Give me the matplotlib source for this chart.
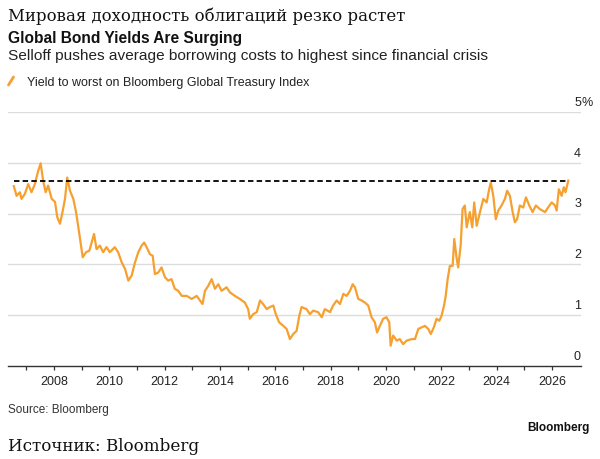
import matplotlib
matplotlib.use("Agg")
import matplotlib.pyplot as plt
from matplotlib.lines import Line2D

# ---- data (decimal year, yield %) ----
years = [
    2006.55, 2006.65, 2006.77, 2006.83, 2006.95, 2007.07, 2007.19, 2007.31, 2007.43, 2007.52,
    2007.61, 2007.70, 2007.79, 2007.92, 2008.04, 2008.12, 2008.22, 2008.31, 2008.40, 2008.48,
    2008.58, 2008.70, 2008.80, 2008.91, 2009.04, 2009.16, 2009.28, 2009.45, 2009.54, 2009.66,
    2009.78, 2009.90, 2010.02, 2010.20, 2010.32, 2010.45, 2010.57, 2010.69, 2010.81, 2010.93,
    2011.05, 2011.17, 2011.26, 2011.35, 2011.47, 2011.57, 2011.65, 2011.77, 2011.89, 2012.01,
    2012.13, 2012.25, 2012.37, 2012.49, 2012.62, 2012.80, 2012.98, 2013.16, 2013.28, 2013.37,
    2013.46, 2013.58, 2013.70, 2013.82, 2013.94, 2014.06, 2014.24, 2014.36, 2014.54, 2014.72,
    2014.90, 2015.02, 2015.08, 2015.20, 2015.33, 2015.45, 2015.56, 2015.69, 2015.81, 2015.93,
    2016.02, 2016.14, 2016.29, 2016.41, 2016.53, 2016.65, 2016.77, 2016.87, 2016.95, 2017.13,
    2017.25, 2017.37, 2017.55, 2017.68, 2017.79, 2017.98, 2018.09, 2018.22, 2018.34, 2018.46,
    2018.58, 2018.70, 2018.80, 2018.88, 2019.00, 2019.12, 2019.24, 2019.36, 2019.48, 2019.60,
    2019.68, 2019.78, 2019.90, 2020.02, 2020.12, 2020.17, 2020.26, 2020.39, 2020.50, 2020.62,
    2020.75, 2020.93, 2021.05, 2021.17, 2021.29, 2021.41, 2021.53, 2021.62, 2021.73, 2021.83,
    2021.93, 2022.01, 2022.10, 2022.16, 2022.23, 2022.31, 2022.41, 2022.47, 2022.55, 2022.61,
    2022.70, 2022.77, 2022.85, 2022.92, 2023.03, 2023.12, 2023.19, 2023.28, 2023.40, 2023.52,
    2023.64, 2023.73, 2023.79, 2023.88, 2023.97, 2024.06, 2024.18, 2024.30, 2024.38, 2024.48,
    2024.58, 2024.66, 2024.74, 2024.84, 2024.96, 2025.06, 2025.18, 2025.30, 2025.42, 2025.56,
    2025.75, 2025.86, 2025.99, 2026.11, 2026.17, 2026.25, 2026.35, 2026.43, 2026.49, 2026.59,
]
yields = [
    3.54, 3.35, 3.42, 3.29, 3.39, 3.58, 3.42, 3.58, 3.84, 3.99,
    3.65, 3.42, 3.55, 3.29, 3.23, 2.93, 2.80, 3.03, 3.29, 3.71,
    3.45, 3.29, 3.03, 2.63, 2.14, 2.24, 2.27, 2.60, 2.30, 2.37,
    2.24, 2.34, 2.24, 2.34, 2.24, 2.04, 1.91, 1.68, 1.78, 2.04,
    2.24, 2.37, 2.43, 2.34, 2.20, 2.17, 1.81, 1.84, 1.94, 1.75,
    1.68, 1.71, 1.52, 1.48, 1.38, 1.38, 1.32, 1.38, 1.29, 1.22,
    1.48, 1.58, 1.71, 1.52, 1.61, 1.48, 1.55, 1.45, 1.38, 1.32,
    1.25, 1.12, 0.93, 1.02, 1.06, 1.29, 1.22, 1.12, 1.16, 1.19,
    1.02, 0.86, 0.79, 0.73, 0.53, 0.63, 0.69, 0.99, 1.16, 1.12,
    1.02, 1.09, 1.06, 0.96, 1.12, 1.06, 1.19, 1.29, 1.22, 1.42,
    1.38, 1.48, 1.61, 1.55, 1.32, 1.29, 1.25, 1.19, 0.96, 0.86,
    0.66, 0.79, 0.93, 0.96, 0.86, 0.40, 0.60, 0.50, 0.53, 0.43,
    0.50, 0.53, 0.53, 0.73, 0.76, 0.79, 0.73, 0.63, 0.76, 0.93,
    0.89, 0.99, 1.19, 1.38, 1.71, 1.97, 1.97, 2.50, 2.14, 1.94,
    2.37, 3.09, 3.16, 2.73, 3.03, 2.73, 3.22, 2.76, 3.03, 3.29,
    3.22, 3.48, 3.61, 3.35, 2.89, 3.06, 3.16, 3.29, 3.45, 3.35,
    3.03, 2.83, 2.89, 3.16, 3.12, 3.32, 3.16, 3.03, 3.16, 3.09,
    3.03, 3.12, 3.22, 3.16, 3.06, 3.48, 3.35, 3.52, 3.42, 3.65,
]
crisis_high = 3.65
y_ticks = [0, 1, 2, 3, 4, 5]
y_tick_labels = ["0", "1", "2", "3", "4", "5"]
x_major = list(range(2008, 2027, 2))
x_minor = list(range(2007, 2027, 2))

title_ru = "Мировая доходность облигаций резко растет"
title = "Global Bond Yields Are Surging"
subtitle = "Selloff pushes average borrowing costs to highest since financial crisis"
legend_label = "Yield to worst on Bloomberg Global Treasury Index"
source = "Source: Bloomberg"
logo = "Bloomberg"
source_ru = "Источник: Bloomberg"

ORANGE = "#F6A030"
W, H = 600, 460

plt.rcParams["font.family"] = ["Liberation Sans", "DejaVu Sans"]
fig = plt.figure(figsize=(W / 100, H / 100), dpi=100)
fig.patch.set_facecolor("white")

ax = fig.add_axes([8 / W, 1 - 367 / H, (581 - 8) / W, (367 - 113) / H])
ax.set_xlim(2006.34, 2027.05)
ax.set_ylim(0, 5)

for v in y_ticks[1:]:
    ax.axhline(v, color="#dcdcdc", lw=1.0, zorder=1)

ax.plot(years, yields, color=ORANGE, lw=1.6, zorder=3, solid_joinstyle="round")
ax.hlines(crisis_high, years[0], years[-1], colors="black", lw=1.3,
          linestyles=(0, (3.0, 1.8)), zorder=4)

for s in ["top", "left", "right"]:
    ax.spines[s].set_visible(False)
ax.spines["bottom"].set_color("#333333")
ax.spines["bottom"].set_linewidth(1.0)

ax.set_yticks([])
ax.set_xticks(x_major)
ax.set_xticklabels([str(y) for y in x_major])
ax.set_xticks(x_minor, minor=True)
ax.tick_params(axis="x", which="both", direction="out", length=3.2, width=0.9,
               color="#333333", labelsize=9, labelcolor="#222222", pad=3.5)

# y labels sit above gridlines at the right edge
for v, lab in zip(y_ticks, y_tick_labels):
    ax.annotate(lab, xy=(1.0, v), xycoords=("axes fraction", "data"),
                xytext=(0, 3), textcoords="offset points",
                ha="right", va="bottom", fontsize=9, color="#222222")
ax.annotate("%", xy=(1.0, y_ticks[-1]), xycoords=("axes fraction", "data"),
            xytext=(0, 3), textcoords="offset points",
            ha="left", va="bottom", fontsize=9, color="#222222")

def fy(px):
    return 1 - px / H

fig.text(8 / W, fy(21), title_ru, family="DejaVu Serif", fontsize=11.9,
         color="#111111", va="baseline", ha="left")
fig.text(8 / W, fy(42.5), title, fontsize=11.2, fontweight="bold",
         color="#111111", va="baseline", ha="left")
fig.text(8 / W, fy(60), subtitle, fontsize=11.1, color="#222222",
         va="baseline", ha="left")
fig.add_artist(Line2D([8.5 / W, 13.5 / W], [fy(86), fy(78)], color=ORANGE,
                      lw=2.0, transform=fig.transFigure, solid_capstyle="round"))
fig.text(27 / W, fy(86), legend_label, fontsize=9.0, color="#222222",
         va="baseline", ha="left")

fig.text(8 / W, fy(413), source, fontsize=8.5, color="#333333",
         va="baseline", ha="left")
fig.text(590 / W, fy(431), logo, fontsize=8.5, fontweight="bold",
         color="#111111", va="baseline", ha="right")
fig.text(8 / W, fy(451), source_ru, family="DejaVu Serif", fontsize=12.1,
         color="#111111", va="baseline", ha="left")

fig.savefig("out.png", dpi=100, facecolor="white")
